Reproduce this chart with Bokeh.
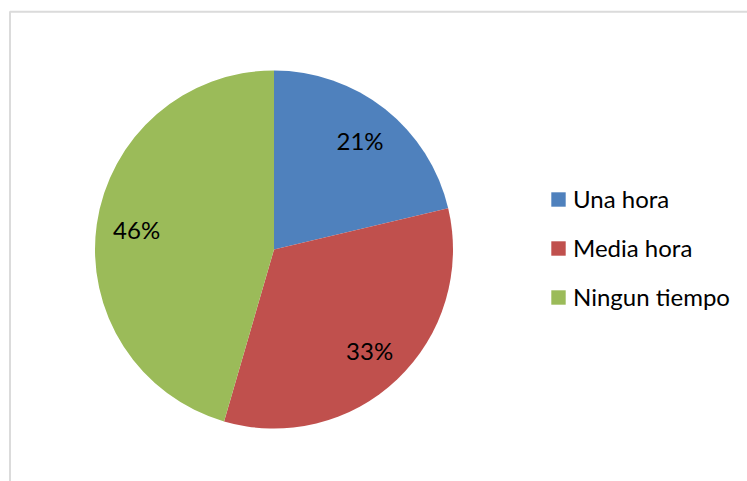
import math
from bokeh.plotting import figure
from bokeh.models import Range1d, Legend, LegendItem, BoxAnnotation, ColumnDataSource
from bokeh.core.properties import value
from bokeh.embed import file_html
from bokeh.resources import INLINE

categories = ["Una hora", "Media hora", "Ningun tiempo"]
values = [21.3, 33.2, 45.5]
labels = ["21%", "33%", "46%"]
colors = ["#4F81BD", "#C0504D", "#9BBB59"]

FONT = "Lato"
FSIZE = "24px"

W, H = 747, 481
R_PX = 179.0
CX, CY = 273.5, 249.0  # pie centre in canvas pixels (from top-left)
x_start = -CX / R_PX
x_end = (W - CX) / R_PX
y_end = CY / R_PX
y_start = -(H - CY) / R_PX

total = sum(values)
starts, ends, lx, ly = [], [], [], []
cum = 0.0
for v in values:
    a0 = math.pi / 2 - 2 * math.pi * cum / total
    cum += v
    a1 = math.pi / 2 - 2 * math.pi * cum / total
    starts.append(a1)
    ends.append(a0)
    mid = (a0 + a1) / 2
    lx.append(0.775 * math.cos(mid))
    ly.append(0.775 * math.sin(mid))

src = ColumnDataSource(dict(cat=categories, val=values, start=starts, end=ends,
                            color=colors, lx=lx, ly=ly, label=labels))

p = figure(width=W, height=H, output_backend="svg", toolbar_location=None,
           x_range=Range1d(x_start, x_end), y_range=Range1d(y_start, y_end),
           min_border=0, x_axis_location=None, y_axis_location=None)
p.grid.visible = False
p.outline_line_color = None
p.background_fill_color = "white"
p.border_fill_color = "white"

r = p.wedge(x=0, y=0, radius=1.0, start_angle="start", end_angle="end",
            fill_color="color", line_color=None, source=src)

p.text(x="lx", y="ly", text="label", source=src, text_align="center",
       text_baseline="middle", text_font=value(FONT), text_font_size=FSIZE,
       text_color="black")

frame_box = BoxAnnotation(left=9.5, right=3000, top=H - 11.2, bottom=-3000,
                          left_units="screen", right_units="screen",
                          top_units="screen", bottom_units="screen",
                          fill_alpha=0, line_color="#878787", line_width=2)
p.add_layout(frame_box)

legend = Legend(items=[LegendItem(label=c, renderers=[r], index=i)
                       for i, c in enumerate(categories)],
                location=(549, 170), orientation="vertical",
                glyph_width=18, glyph_height=18, label_standoff=6,
                spacing=20, padding=0, margin=0,
                border_line_color=None, background_fill_alpha=0,
                label_text_font=FONT, label_text_font_size=FSIZE,
                label_text_color="black")
p.add_layout(legend)

open("out.html", "w").write(file_html(p, INLINE))
